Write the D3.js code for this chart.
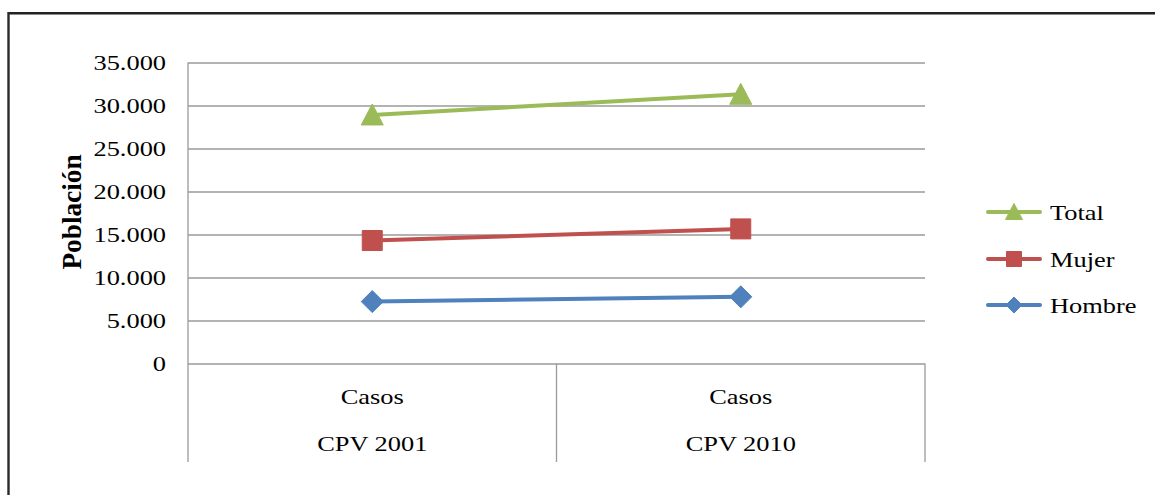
<!DOCTYPE html>
<html>
<head>
<meta charset="utf-8">
<script src="https://cdn.jsdelivr.net/npm/d3@7/dist/d3.min.js"></script>
<style>
  html, body { margin: 0; padding: 0; background: #fff; }
  svg { display: block; }
  text { font-family: "Liberation Serif", "Times New Roman", serif; fill: #000; }
</style>
</head>
<body>
<svg id="chart" width="1155" height="495"></svg>
<script>
// ---- data ----
const categoriesTop = ["Casos", "Casos"];
const categoriesBottom = ["CPV 2001", "CPV 2010"];
const seriesNames = ["Total", "Mujer", "Hombre"];
const totalValues = [28900, 31300];
const mujerValues = [14300, 15650];
const hombreValues = [7200, 7750];
const yTicks = [0, 5000, 10000, 15000, 20000, 25000, 30000, 35000];
const yTitle = "Población";

// ---- layout ----
const W = 1155, H = 495;
const plot = { left: 188, right: 925, top: 62.5, bottom: 363.5, catBottom: 462 };
const SX = 1.2; // horizontal text stretch seen in the reference
const FS = 22;

const svg = d3.select("#chart");
const locale = d3.formatLocale({ decimal: ",", thousands: ".", grouping: [3], currency: ["", ""] });
const fmt = locale.format(",");

const x = d3.scaleBand().domain(d3.range(categoriesTop.length)).range([plot.left, plot.right]).padding(0);
const y = d3.scaleLinear().domain([0, 35000]).range([plot.bottom, plot.top]);

// outer frame
svg.append("line").attr("x1", 8).attr("x2", W).attr("y1", 14.5).attr("y2", 14.5).attr("stroke", "#8a8a8a").attr("stroke-width", 1);
svg.append("line").attr("x1", 8).attr("x2", W).attr("y1", 13).attr("y2", 13).attr("stroke", "#222").attr("stroke-width", 2.2);
svg.append("line").attr("x1", 8.5).attr("x2", 8.5).attr("y1", 12).attr("y2", H).attr("stroke", "#2a2a2a").attr("stroke-width", 2.4);

// y axis with gridlines
const yAxis = d3.axisLeft(y).tickValues(yTicks).tickFormat(fmt)
  .tickSize(-(plot.right - plot.left)).tickPadding(22);
const gy = svg.append("g").attr("transform", `translate(${plot.left},0)`).call(yAxis);
gy.select(".domain").remove();
gy.selectAll(".tick line").attr("stroke", "#9a9a9a").attr("stroke-width", 1.3);
gy.selectAll(".tick text")
  .attr("x", -22 / SX)
  .attr("transform", `scale(${SX},1)`)
  .style("font-size", FS + "px")
  .style("font-family", "'Liberation Serif', serif")
  .attr("fill", "#000");

// axis / category lines
const axisColor = "#9a9a9a";
svg.append("line").attr("x1", plot.left).attr("x2", plot.left).attr("y1", plot.top).attr("y2", plot.catBottom)
  .attr("stroke", axisColor).attr("stroke-width", 1.3);
x.domain().forEach(i => {
  const xr = x(i) + x.bandwidth();
  svg.append("line").attr("x1", xr).attr("x2", xr).attr("y1", plot.bottom).attr("y2", plot.catBottom)
    .attr("stroke", axisColor).attr("stroke-width", 1.3);
});

// category labels
const catG = svg.append("g");
x.domain().forEach(i => {
  const cx = x(i) + x.bandwidth() / 2;
  catG.append("text").attr("transform", `translate(${cx},396) scale(${SX},1)`)
    .attr("text-anchor", "middle").attr("dy", "0.35em").style("font-size", FS + "px").text(categoriesTop[i]);
  catG.append("text").attr("transform", `translate(${cx},443) scale(${SX},1)`)
    .attr("text-anchor", "middle").attr("dy", "0.35em").style("font-size", FS + "px").text(categoriesBottom[i]);
});

// y title
svg.append("text")
  .attr("transform", `translate(72,212) rotate(-90) scale(1.24,${SX})`)
  .attr("text-anchor", "middle").attr("dy", "0.35em")
  .style("font-size", FS + "px").style("font-weight", "bold").text(yTitle);

// series
const series = [
  { name: seriesNames[0], values: totalValues, color: "#9BBB59", marker: "triangle" },
  { name: seriesNames[1], values: mujerValues, color: "#C0504D", marker: "square" },
  { name: seriesNames[2], values: hombreValues, color: "#4F81BD", marker: "diamond" }
];

function markerPath(type, s) {
  const h = s / 2;
  if (type === "triangle") return `M0,${-h - 1}L${h + 1},${h}L${-h - 1},${h}Z`;
  if (type === "square") return `M${-h},${-h}H${h}V${h}H${-h}Z`;
  return `M0,${-h}L${h},0L0,${h}L${-h},0Z`;
}

const line = d3.line().x((d, i) => x(i) + x.bandwidth() / 2).y(d => y(d));
const drawOrder = [series[2], series[1], series[0]];
drawOrder.forEach(s => {
  svg.append("path").datum(s.values).attr("d", line)
    .attr("fill", "none").attr("stroke", s.color).attr("stroke-width", 4).attr("stroke-linecap", "round");
});
drawOrder.forEach(s => {
  svg.append("g").selectAll("path").data(s.values).join("path")
    .attr("transform", (d, i) => `translate(${x(i) + x.bandwidth() / 2},${y(d)})`)
    .attr("d", markerPath(s.marker, s.marker === "diamond" ? 22 : 20))
    .attr("fill", s.color).attr("stroke", s.color).attr("stroke-width", 1).attr("stroke-linejoin", "round");
});

// legend
const legendY = [212, 259, 305];
const lg = svg.append("g");
series.forEach((s, i) => {
  const ly = legendY[i];
  lg.append("line").attr("x1", 988).attr("x2", 1040).attr("y1", ly).attr("y2", ly)
    .attr("stroke", s.color).attr("stroke-width", 4).attr("stroke-linecap", "round");
  lg.append("path").attr("transform", `translate(1014,${ly})`)
    .attr("d", markerPath(s.marker, s.marker === "diamond" ? 16 : 15))
    .attr("fill", s.color).attr("stroke", s.color).attr("stroke-width", 1);
  lg.append("text").attr("transform", `translate(1050,${ly}) scale(${SX},1)`)
    .attr("dy", "0.35em").style("font-size", FS + "px").text(s.name);
});
</script>
</body>
</html>
